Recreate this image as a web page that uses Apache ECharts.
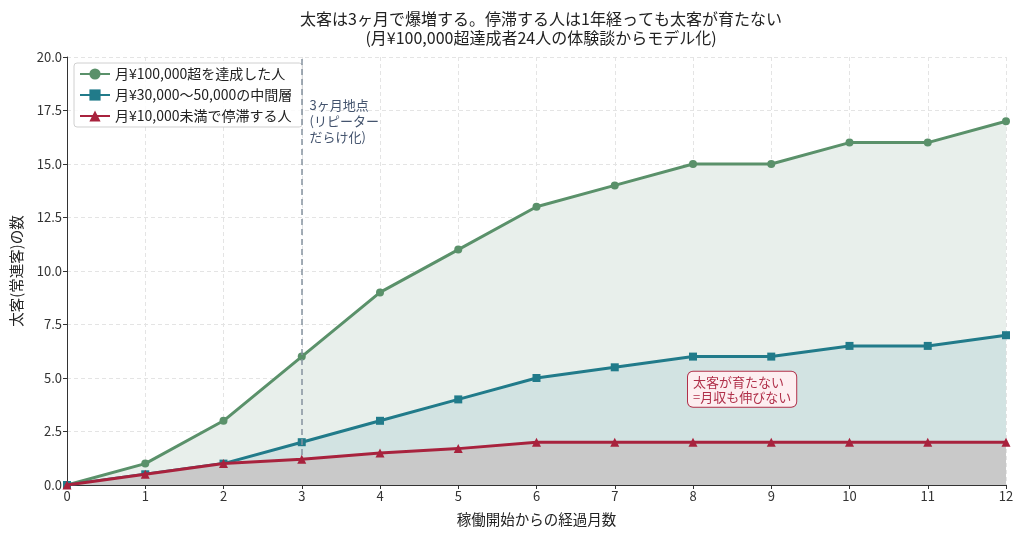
<!DOCTYPE html>
<html>
<head>
<meta charset="utf-8">
<script src="https://cdn.jsdelivr.net/npm/echarts@6/dist/echarts.min.js"></script>
<style>
  html, body { margin: 0; padding: 0; background: #fff; }
  #main { width: 1024px; height: 535px; }
</style>
</head>
<body>
<div id="main"></div>
<script>
// months since start
const months = [0, 1, 2, 3, 4, 5, 6, 7, 8, 9, 10, 11, 12]
// number of big customers per group
const topGroup = [0, 1, 3, 6, 9, 11, 13, 14, 15, 15, 16, 16, 17]
const midGroup = [0, 0.5, 1, 2, 3, 4, 5, 5.5, 6, 6, 6.5, 6.5, 7]
const lowGroup = [0, 0.5, 1, 1.2, 1.5, 1.7, 2, 2, 2, 2, 2, 2, 2]
const seriesNames = ['月¥100,000超を達成した人', '月¥30,000〜50,000の中間層', '月¥10,000未満で停滞する人']
const markMonth = 3

const font = '"Noto Sans CJK JP", "Noto Sans", sans-serif'

function pairs(ys) {
    var out = []
    for (var i = 0; i < months.length; i++) {
        out.push([months[i], ys[i]])
    }
    return out
}

var myChart = echarts.init(document.getElementById('main'))

const option = {
    animation: false,
    textStyle: { fontFamily: font },
    title: {
        text: '太客は3ヶ月で爆増する。停滞する人は1年経っても太客が育たない\n(月¥100,000超達成者24人の体験談からモデル化)',
        left: 536,
        top: 4,
        textAlign: 'center',
        textStyle: { fontFamily: font, fontSize: 16, fontWeight: 'normal', color: '#222', lineHeight: 19 }
    },
    grid: { left: 67, right: 18, top: 57, bottom: 50 },
    legend: {
        orient: 'vertical',
        left: 74,
        top: 63,
        itemGap: 7,
        itemWidth: 30,
        itemHeight: 14,
        padding: [4, 10, 4, 5],
        backgroundColor: 'rgba(255,255,255,0.85)',
        borderColor: '#d0d0d0',
        borderWidth: 1,
        borderRadius: 3,
        textStyle: { fontFamily: font, fontSize: 14, color: '#222' },
        data: seriesNames
    },
    xAxis: {
        type: 'value',
        min: 0,
        max: 12,
        interval: 1,
        name: '稼働開始からの経過月数',
        nameLocation: 'middle',
        nameGap: 27,
        nameTextStyle: { fontFamily: font, fontSize: 14.5, color: '#222' },
        axisLine: { lineStyle: { color: '#333', width: 1 } },
        axisTick: { show: true, length: 4, lineStyle: { color: '#333' } },
        axisLabel: { fontFamily: font, fontSize: 13, color: '#333', margin: 5 },
        splitLine: { show: true, lineStyle: { color: '#e4e4e4', type: [4, 3] } }
    },
    yAxis: {
        type: 'value',
        min: 0,
        max: 20,
        interval: 2.5,
        name: '太客(常連客)の数',
        nameLocation: 'middle',
        nameGap: 43,
        nameTextStyle: { fontFamily: font, fontSize: 14.5, color: '#222' },
        axisLine: { show: true, lineStyle: { color: '#333', width: 1 } },
        axisTick: { show: true, length: 4, lineStyle: { color: '#333' } },
        axisLabel: {
            fontFamily: font, fontSize: 13, color: '#333', margin: 5,
            formatter: function (v) { return v.toFixed(1) }
        },
        splitLine: { show: true, lineStyle: { color: '#e4e4e4', type: [4, 3] } }
    },
    series: [
        {
            name: seriesNames[0],
            type: 'line',
            data: pairs(topGroup),
            symbol: 'circle',
            symbolSize: 8,
            lineStyle: { color: '#5a916a', width: 3 },
            itemStyle: { color: '#5a916a' },
            areaStyle: { color: '#e8efeb', opacity: 1 },
            z: 3,
            markLine: {
                silent: true,
                symbol: 'none',
                label: { show: false },
                lineStyle: { color: '#8592a0', type: [6, 4], width: 1.5 },
                data: [{ xAxis: markMonth }]
            }
        },
        {
            name: seriesNames[1],
            type: 'line',
            data: pairs(midGroup),
            symbol: 'rect',
            symbolSize: 8,
            lineStyle: { color: '#217b8a', width: 3 },
            itemStyle: { color: '#217b8a' },
            areaStyle: { color: '#d2e3e2', opacity: 1 },
            z: 4
        },
        {
            name: seriesNames[2],
            type: 'line',
            data: pairs(lowGroup),
            symbol: 'triangle',
            symbolSize: 9,
            lineStyle: { color: '#a8223d', width: 3 },
            itemStyle: { color: '#a8223d' },
            areaStyle: { color: '#c9c9c9', opacity: 1 },
            z: 5
        }
    ]
}
myChart.setOption(option)

// notes placed through the chart's own coordinate conversion
const notePos = myChart.convertToPixel({ gridIndex: 0 }, [markMonth + 0.1, 18])
const boxPos = myChart.convertToPixel({ gridIndex: 0 }, [8, 4.5])
myChart.setOption({
    graphic: [
        {
            type: 'text',
            left: notePos[0],
            top: notePos[1] - 3,
            z: 10,
            style: {
                text: '3ヶ月地点\n(リピーター\nだらけ化)',
                fontFamily: font,
                fontSize: 13,
                lineHeight: 16,
                fill: '#44546e'
            }
        },
        {
            type: 'text',
            left: boxPos[0] - 6,
            top: boxPos[1] - 18,
            z: 10,
            style: {
                text: '太客が育たない\n=月収も伸びない',
                fontFamily: font,
                fontSize: 13,
                lineHeight: 15,
                fill: '#b0304a',
                backgroundColor: '#fdeef0',
                borderColor: '#b0304a',
                borderWidth: 1,
                borderRadius: 5,
                padding: [3, 5, 2, 5]
            }
        }
    ]
})
</script>
</body>
</html>
